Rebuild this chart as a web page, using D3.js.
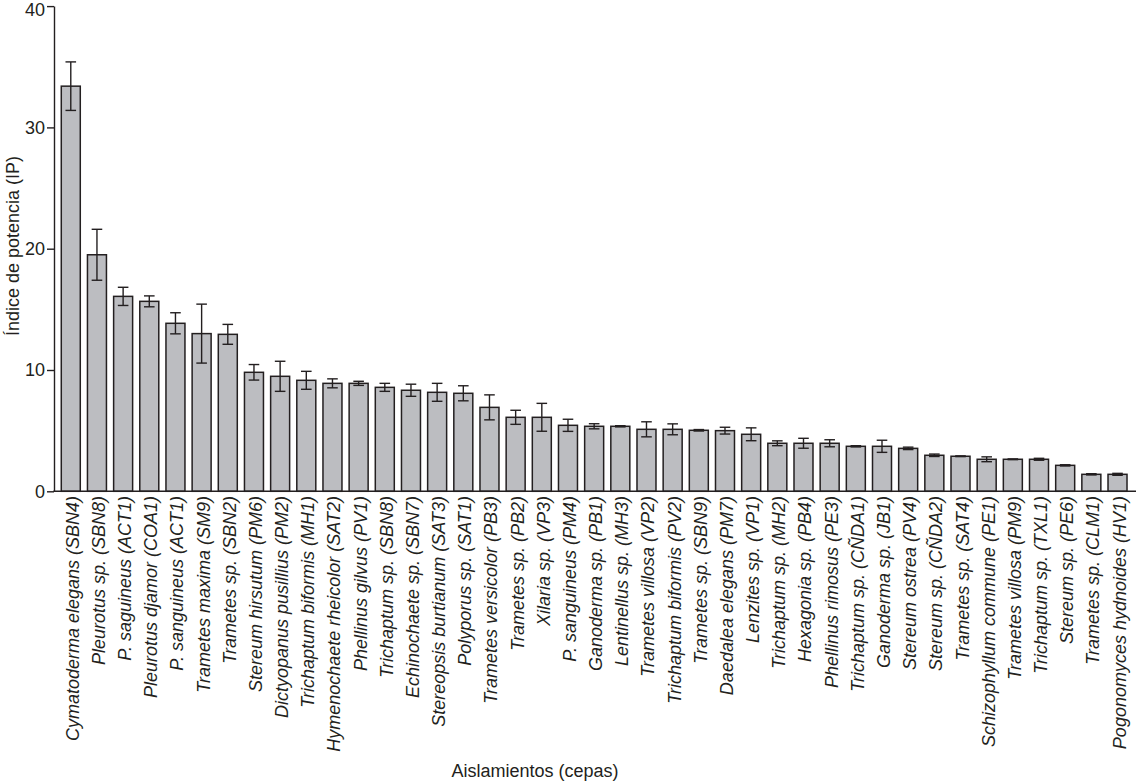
<!DOCTYPE html>
<html>
<head>
<meta charset="utf-8">
<script src="https://d3js.org/d3.v7.min.js"></script>
<style>
  html, body { margin: 0; padding: 0; background: #ffffff; }
  svg { display: block; }
  text { font-family: "Liberation Sans", Arial, Helvetica, sans-serif; fill: #231f20; }
</style>
</head>
<body>
<svg id="chart" width="1136" height="783"></svg>
<script>
const categories = [
  "Cymatoderma elegans (SBN4)", "Pleurotus sp. (SBN8)", "P. saguineus (ACT1)",
  "Pleurotus djamor (COA1)", "P. sanguineus (ACT1)", "Trametes maxima (SM9)",
  "Trametes sp. (SBN2)", "Stereum hirsutum (PM6)", "Dictyopanus pusillius (PM2)",
  "Trichaptum biformis (MH1)", "Hymenochaete rheicolor (SAT2)", "Phellinus gilvus (PV1)",
  "Trichaptum sp. (SBN8)", "Echinochaete sp. (SBN7)", "Stereopsis burtianum (SAT3)",
  "Polyporus sp. (SAT1)", "Trametes versicolor (PB3)", "Trametes sp. (PB2)",
  "Xilaria sp. (VP3)", "P. sanguineus (PM4)", "Ganoderma sp. (PB1)",
  "Lentinellus sp. (MH3)", "Trametes villosa (VP2)", "Trichaptum biformis (PV2)",
  "Trametes sp. (SBN9)", "Daedalea elegans (PM7)", "Lenzites sp. (VP1)",
  "Trichaptum sp. (MH2)", "Hexagonia sp. (PB4)", "Phellinus rimosus (PE3)",
  "Trichaptum sp. (CÑDA1)", "Ganoderma sp. (JB1)", "Stereum ostrea (PV4)",
  "Stereum sp. (CÑDA2)", "Trametes sp. (SAT4)", "Schizophyllum commune (PE1)",
  "Trametes villosa (PM9)", "Trichaptum sp. (TXL1)", "Stereum sp. (PE6)",
  "Trametes sp. (CLM1)", "Pogonomyces hydnoides (HV1)"
];
const values = [
  33.4, 19.5, 16.07, 15.66, 13.85, 13.0, 12.94, 9.81, 9.48,
  9.15, 8.9, 8.9, 8.57, 8.33, 8.16, 8.08, 6.92, 6.1,
  6.1, 5.44, 5.36, 5.36, 5.11, 5.11, 5.03, 5.0, 4.7,
  3.96, 3.96, 3.96, 3.71, 3.71, 3.54, 2.97, 2.89, 2.64,
  2.64, 2.64, 2.14, 1.4, 1.4
];
const errors = [
  2.0, 2.1, 0.75, 0.45, 0.87, 2.43, 0.82, 0.64, 1.24,
  0.74, 0.37, 0.17, 0.33, 0.5, 0.74, 0.62, 1.03, 0.58,
  1.15, 0.5, 0.21, 0.05, 0.62, 0.45, 0.06, 0.28, 0.53,
  0.2, 0.41, 0.29, 0.05, 0.5, 0.1, 0.1, 0.03, 0.2,
  0.03, 0.08, 0.05, 0.05, 0.08
];
const yTicks = [0, 10, 20, 30, 40];
const yTitle = "Índice de potencia (IP)";
const xTitle = "Aislamientos (cepas)";

const svg = d3.select("#chart");
const ink = "#231f20";

const x = d3.scaleBand()
  .domain(categories)
  .range([57.7, 1130.6])
  .paddingInner(0.274)
  .paddingOuter(0.137);

const y = d3.scaleLinear().domain([0, 40]).range([491.3, 6.1]);

// bars
svg.append("g").selectAll("rect")
  .data(categories)
  .join("rect")
  .attr("x", d => x(d))
  .attr("y", (d, i) => y(values[i]))
  .attr("width", x.bandwidth())
  .attr("height", (d, i) => y(0) - y(values[i]))
  .attr("fill", "#bcbdc1")
  .attr("stroke", ink)
  .attr("stroke-width", 1.5);

// error bars
const eg = svg.append("g").attr("stroke", ink).attr("stroke-width", 1.4);
categories.forEach((c, i) => {
  const cx = x(c) + x.bandwidth() / 2;
  const hi = y(values[i] + errors[i]);
  const lo = y(values[i] - errors[i]);
  eg.append("line").attr("x1", cx).attr("x2", cx).attr("y1", hi).attr("y2", lo);
  eg.append("line").attr("x1", cx - 5.3).attr("x2", cx + 5.3).attr("y1", hi).attr("y2", hi);
  eg.append("line").attr("x1", cx - 5.3).attr("x2", cx + 5.3).attr("y1", lo).attr("y2", lo);
});

// y axis
const yAxis = svg.append("g")
  .attr("transform", "translate(54,0)")
  .call(d3.axisLeft(y).tickValues(yTicks).tickSize(7).tickPadding(2).tickSizeOuter(0));
yAxis.select(".domain").attr("stroke", ink).attr("stroke-width", 1.4);
yAxis.selectAll(".tick line").attr("stroke", ink).attr("stroke-width", 1.4);
yAxis.selectAll(".tick text").attr("font-size", 18).attr("fill", ink)
  .style("font-family", '"Liberation Sans", Arial, sans-serif')
  .attr("dy", d => d === 40 ? "0.5em" : "0.32em");

// x axis baseline
svg.append("line")
  .attr("x1", 53.3).attr("x2", 1136)
  .attr("y1", y(0)).attr("y2", y(0))
  .attr("stroke", ink).attr("stroke-width", 1.4);

// x category labels
svg.append("g").selectAll("text")
  .data(categories)
  .join("text")
  .attr("transform", d => `translate(${x(d) + x.bandwidth() / 2 + 8},496) rotate(-90)`)
  .attr("text-anchor", "end")
  .attr("font-size", 18)
  .attr("font-style", "italic")
  .text(d => d);

// titles
svg.append("text")
  .attr("transform", "translate(19,246) rotate(-90)")
  .attr("text-anchor", "middle")
  .attr("font-size", 18)
  .text(yTitle);

svg.append("text")
  .attr("x", 535).attr("y", 777)
  .attr("text-anchor", "middle")
  .attr("font-size", 18)
  .text(xTitle);
</script>
</body>
</html>
